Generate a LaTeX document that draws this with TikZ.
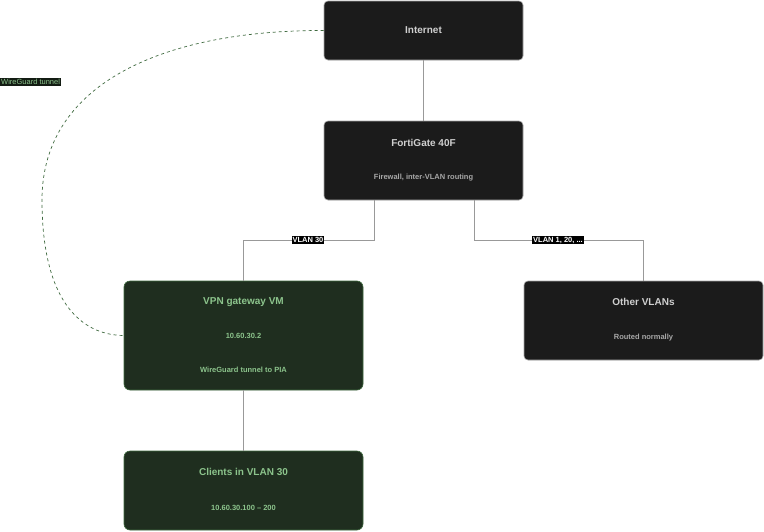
\documentclass[tikz,border=0pt]{standalone}
\usepackage{fontspec}
\setmainfont{Liberation Sans}
\usetikzlibrary{positioning}
\definecolor{boxdark}{HTML}{1B1B1B}
\definecolor{boxgreen}{HTML}{1F2E1F}
\definecolor{edgegreen}{HTML}{3F6A3F}
\definecolor{txtgreen}{HTML}{8CC48C}
\definecolor{txtgray}{HTML}{D0D0D0}
\definecolor{subgray}{HTML}{A8A8A8}
\tikzset{
	darkbox/.style={draw=gray!70, fill=boxdark, rounded corners=4pt, line width=0.6pt, inner sep=0pt},
	greenbox/.style={draw=edgegreen, fill=boxgreen, rounded corners=6pt, line width=0.6pt, inner sep=0pt},
	title/.style={font=\bfseries\fontsize{10}{12}\selectfont},
	sub/.style={font=\bfseries\fontsize{7.5}{9}\selectfont},
	tag/.style={fill=black, text=white, inner sep=1pt, font=\bfseries\fontsize{7.5}{9}\selectfont},
	link/.style={draw=gray!80, line width=0.6pt},
}
\begin{document}
\begin{tikzpicture}[x=1pt, y=-1pt]
	\useasboundingbox[fill=white] (0,0) rectangle (764,531);
	\node[darkbox, minimum width=199pt, minimum height=59pt] (inet) at (423.5,30.5) {};
	\node[darkbox, minimum width=199pt, minimum height=79pt] (forti) at (423.5,160.5) {};
	\node[greenbox, minimum width=239pt, minimum height=109pt] (vpn) at (243.5,335.5) {};
	\node[darkbox, minimum width=239pt, minimum height=79pt] (other) at (643.5,320.5) {};
	\node[greenbox, minimum width=239pt, minimum height=79pt] (clients) at (243.5,490.5) {};

	\node[title, text=txtgray] (inetT) at (inet.center) {Internet};
	\node[title, text=txtgray] (fortiT) at (423.5,143) {FortiGate 40F};
	\node[sub, text=subgray] (fortiS) at (423.5,178) {Firewall, inter-VLAN routing};
	\node[title, text=txtgreen] (vpnT) at (243.5,302) {VPN gateway VM};
	\node[sub, text=txtgreen] (vpnA) at (243.5,336) {10.60.30.2};
	\node[sub, text=txtgreen] (vpnS) at (243.5,370) {WireGuard tunnel to PIA};
	\node[title, text=txtgray] (otherT) at (643.5,302) {Other VLANs};
	\node[sub, text=subgray] (otherS) at (643.5,338) {Routed normally};
	\node[title, text=txtgreen] (clientsT) at (243.5,472) {Clients in VLAN 30};
	\node[sub, text=txtgreen] (clientsA) at (243.5,508) {10.60.30.100 -- 200};

	\path[link] (inet) -- (forti);
	\path[link] ([xshift=-49.5pt]forti.south) |- (243.5,240) -- (vpn.north);
	\path[link] ([xshift=50.5pt]forti.south) |- (643.5,240) -- (other.north);
	\path[link] (vpn) -- (clients);
	\node[tag] (tag30) at (308,240) {VLAN 30};
	\node[tag] (tagrest) at (558,240) {VLAN 1, 20, ...};

	\draw[edgegreen, dashed, line width=0.7pt] (inet.west) .. controls (170,30) and (42,80) .. (42,200)
		.. controls (42,300) and (80,335) .. (vpn.west);
	\node[tag, fill=boxgreen!60!black, text=txtgreen, font=\fontsize{7.5}{9}\selectfont, anchor=west] (tagwg) at (0,82) {WireGuard tunnel};
\end{tikzpicture}
\end{document}
